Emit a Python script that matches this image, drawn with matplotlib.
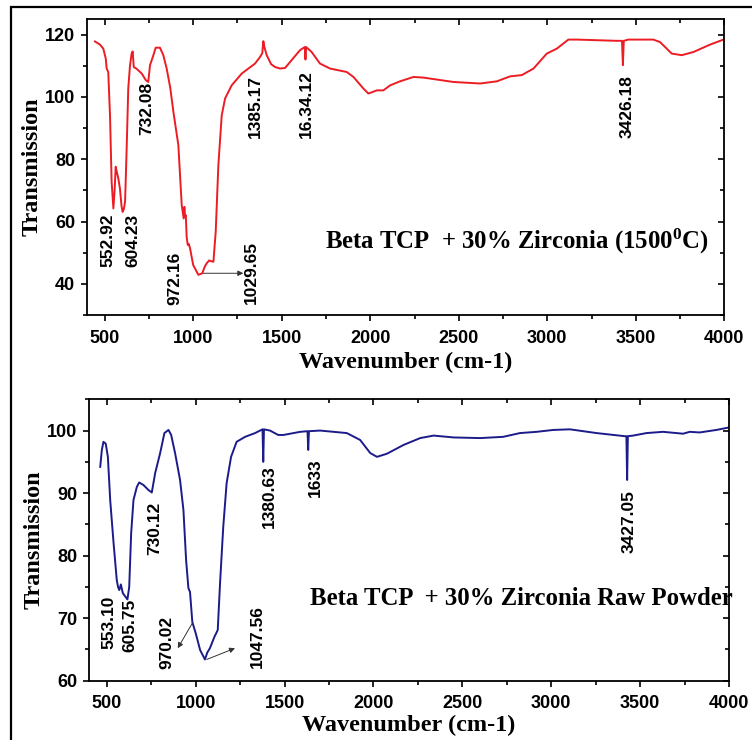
import numpy as np
import matplotlib
matplotlib.use("Agg")
import matplotlib.pyplot as plt
from matplotlib.patches import Rectangle
from matplotlib.ticker import MultipleLocator

plt.rcParams['mathtext.fontset'] = 'custom'
plt.rcParams['mathtext.rm'] = 'Liberation Serif:bold'
plt.rcParams['mathtext.it'] = 'Liberation Serif:bold'
plt.rcParams['mathtext.bf'] = 'Liberation Serif:bold'

# sintered sample (1500 C)
wn_sint = [445, 473, 492, 506, 511, 520, 530, 539, 549, 556, 562, 570, 577, 586, 595, 601,
           608, 615, 624, 633, 643, 652, 658, 664, 681, 709, 732, 746, 756, 775, 788, 812,
           831, 850, 870, 888, 916, 935, 946, 950, 954, 958, 963, 969, 975, 982, 1000, 1029,
           1051, 1065, 1076, 1090, 1100, 1114, 1127, 1142, 1161, 1180, 1217, 1274, 1349, 1377,
           1390, 1396, 1402, 1415, 1440, 1462, 1490, 1519, 1547, 1603, 1630, 1634, 1638, 1669,
           1716, 1773, 1867, 1905, 1961, 1989, 2010, 2037, 2074, 2112, 2168, 2244, 2300, 2469,
           2620, 2715, 2790, 2856, 2922, 2997, 3054, 3119, 3167, 3393, 3422, 3427, 3432, 3458,
           3599, 3637, 3703, 3760, 3825, 3920, 4000]
tr_sint = [117.8, 116.8, 115.5, 112.3, 109.1, 108.0, 94.0, 72.8, 64.2, 70.0, 77.6, 75.5, 73.8,
           70.6, 65.0, 63.1, 64.0, 66.3, 83.5, 102.7, 110.2, 113.9, 114.6, 109.6, 109.0, 107.5,
           105.4, 104.8, 110.2, 113.4, 115.8, 115.8, 113.4, 109.1, 103.0, 95.2, 84.5, 65.3, 61.0,
           64.7, 61.5, 62.0, 55.0, 52.5, 52.8, 51.4, 46.0, 42.9, 43.4, 45.5, 46.6, 47.5, 47.3,
           47.1, 56.7, 78.1, 94.1, 99.5, 103.7, 107.5, 110.7, 112.8, 114.0, 117.9, 116.0, 113.4,
           110.5, 109.6, 109.1, 109.3, 111.2, 115.0, 116.0, 112.0, 116.0, 114.4, 110.7, 109.1,
           108.0, 106.4, 102.7, 101.1, 101.5, 102.1, 102.1, 103.7, 105.0, 106.4, 106.2, 104.8,
           104.3, 105.0, 106.6, 107.0, 109.1, 113.9, 115.5, 118.4, 118.4, 118.0, 118.0, 110.2,
           118.0, 118.4, 118.4, 117.6, 113.9, 113.4, 114.4, 116.8, 118.5]

# raw powder
wn_raw = [463, 472, 481, 494, 506, 519, 538, 556, 563, 570, 579, 590, 603, 616, 626, 637, 650,
          669, 682, 706, 734, 753, 772, 800, 824, 847, 862, 884, 912, 931, 946, 959, 968, 981,
          1000, 1025, 1052, 1065, 1080, 1105, 1124, 1137, 1155, 1174, 1199, 1230, 1278, 1334,
          1376, 1380, 1384, 1418, 1464, 1494, 1588, 1629, 1633, 1637, 1700, 1850, 1925, 1982,
          2020, 2076, 2169, 2263, 2338, 2451, 2601, 2730, 2824, 2918, 3011, 3105, 3255, 3414,
          3423, 3427, 3431, 3461, 3536, 3629, 3742, 3779, 3835, 3929, 4000]
tr_raw = [94.2, 96.9, 98.2, 97.9, 95.8, 88.9, 82.0, 76.1, 75.0, 74.5, 75.4, 74.0, 73.5, 73.0,
          75.0, 83.6, 88.9, 91.0, 91.7, 91.3, 90.5, 90.1, 93.2, 96.4, 99.6, 100.1, 99.3, 96.4,
          92.1, 87.3, 79.3, 74.8, 74.2, 69.4, 67.6, 64.9, 63.4, 64.5, 65.2, 67.0, 68.1, 75.6,
          84.6, 91.6, 95.8, 98.2, 99.0, 99.6, 100.2, 95.0, 100.2, 100.0, 99.3, 99.3, 99.8, 99.9,
          96.9, 99.9, 100.0, 99.6, 98.5, 96.4, 95.8, 96.3, 97.7, 98.8, 99.2, 98.9, 98.8, 99.0,
          99.6, 99.8, 100.1, 100.2, 99.6, 99.1, 99.1, 92.1, 99.1, 99.2, 99.6, 99.8, 99.5, 99.8,
          99.7, 100.1, 100.5]

# peak labels: text, x, y
peaks_sint = [("552.92", 519, 54.0), ("604.23", 660, 54.0), ("732.08", 737, 96.3),
              ("1385.17", 1349, 97.0), ("16.34.12", 1637, 97.6), ("972.16", 897, 41.6),
              ("1029.65", 1330, 43.8), ("3426.18", 3449, 97.0)]
peaks_raw = [("553.10", 511, 69.4), ("605.75", 629, 68.8), ("730.12", 768, 84.4),
             ("1380.63", 1416, 89.4), ("1633", 1672, 92.5), ("970.02", 839, 66.2),
             ("1047.56", 1345, 67.0), ("3427.05", 3438, 85.4)]

# pointer arrows: (x0, y0, x1, y1)
arrows_sint = [(1057, 43.4, 1283, 43.4)]
arrows_raw = [(981, 69.2, 899, 65.2), (1062, 63.4, 1221, 65.2)]

title_sint = "Beta TCP  + 30% Zirconia (1500$^{0}$C)"
title_raw = "Beta TCP  + 30% Zirconia Raw Powder"

sans = 'Liberation Sans'
serif = 'Liberation Serif'

fig = plt.figure(figsize=(7.52, 7.40), dpi=100)
ax1 = fig.add_axes([0.1157, 0.5743, 0.8475, 0.4000])
ax2 = fig.add_axes([0.1184, 0.0801, 0.8510, 0.3803])


def style_axis(ax, ylim, ymajor, xpad):
    ax.set_xlim(400, 4000)
    ax.set_ylim(*ylim)
    ax.xaxis.set_major_locator(MultipleLocator(500))
    ax.xaxis.set_minor_locator(MultipleLocator(250))
    ax.yaxis.set_major_locator(MultipleLocator(ymajor))
    ax.yaxis.set_minor_locator(MultipleLocator(ymajor / 2))
    for s in ax.spines.values():
        s.set_linewidth(1.3)
    ax.tick_params(which='both', direction='out', width=1.2, top=True, right=True,
                   labelsize=13)
    ax.tick_params(axis='x', which='both', pad=6)
    ax.tick_params(axis='y', which='both', pad=4)
    ax.tick_params(which='major', length=4.5)
    ax.tick_params(which='minor', length=2.8)
    # outward on bottom/left, inward on top/right
    for t in ax.xaxis.get_major_ticks() + ax.xaxis.get_minor_ticks():
        t.tick2line.set_marker(3)
    for t in ax.yaxis.get_major_ticks() + ax.yaxis.get_minor_ticks():
        t.tick2line.set_marker(0)
    for lab in ax.get_xticklabels() + ax.get_yticklabels():
        lab.set_fontfamily(sans)
        lab.set_fontweight('bold')
    ax.set_xlabel("Wavenumber (cm-1)", fontfamily=serif, fontweight='bold',
                  fontsize=17.5, labelpad=xpad)
    ax.set_ylabel("Transmission", fontfamily=serif, fontweight='bold',
                  fontsize=17.5, labelpad=2)


def draw(ax, wn, tr, color, peaks, arrows, title, tx, ty):
    ax.plot(wn, tr, color=color, lw=1.4)
    for txt, x, y in peaks:
        ax.text(x, y, txt, rotation=90, ha='center', va='center', fontsize=12.5,
                fontfamily=sans, fontweight='bold')
    for x0, y0, x1, y1 in arrows:
        ax.annotate("", xy=(x1, y1), xytext=(x0, y0),
                    arrowprops=dict(arrowstyle='-|>', color='#333333', lw=0.7,
                                    mutation_scale=8, shrinkA=0, shrinkB=0))
    ax.text(tx, ty, title, ha='left', va='center', fontsize=17.8,
            fontfamily=serif, fontweight='bold', clip_on=False)


style_axis(ax1, (30, 125), 20, 4)
style_axis(ax2, (60, 105), 10, 1.5)
draw(ax1, wn_sint, tr_sint, '#ec1c24', peaks_sint, arrows_sint, title_sint, 1745, 53.7)
draw(ax2, wn_raw, tr_raw, '#1b1b8a', peaks_raw, arrows_raw, title_raw, 1644, 73.2)

# frame around the figure
fig.patches.append(Rectangle((11 / 752, -0.05), 1.1, 1 - 7 / 740 + 0.05,
                             transform=fig.transFigure, fill=False,
                             edgecolor='black', lw=1.6, clip_on=False))

fig.savefig("out.png", dpi=100)
